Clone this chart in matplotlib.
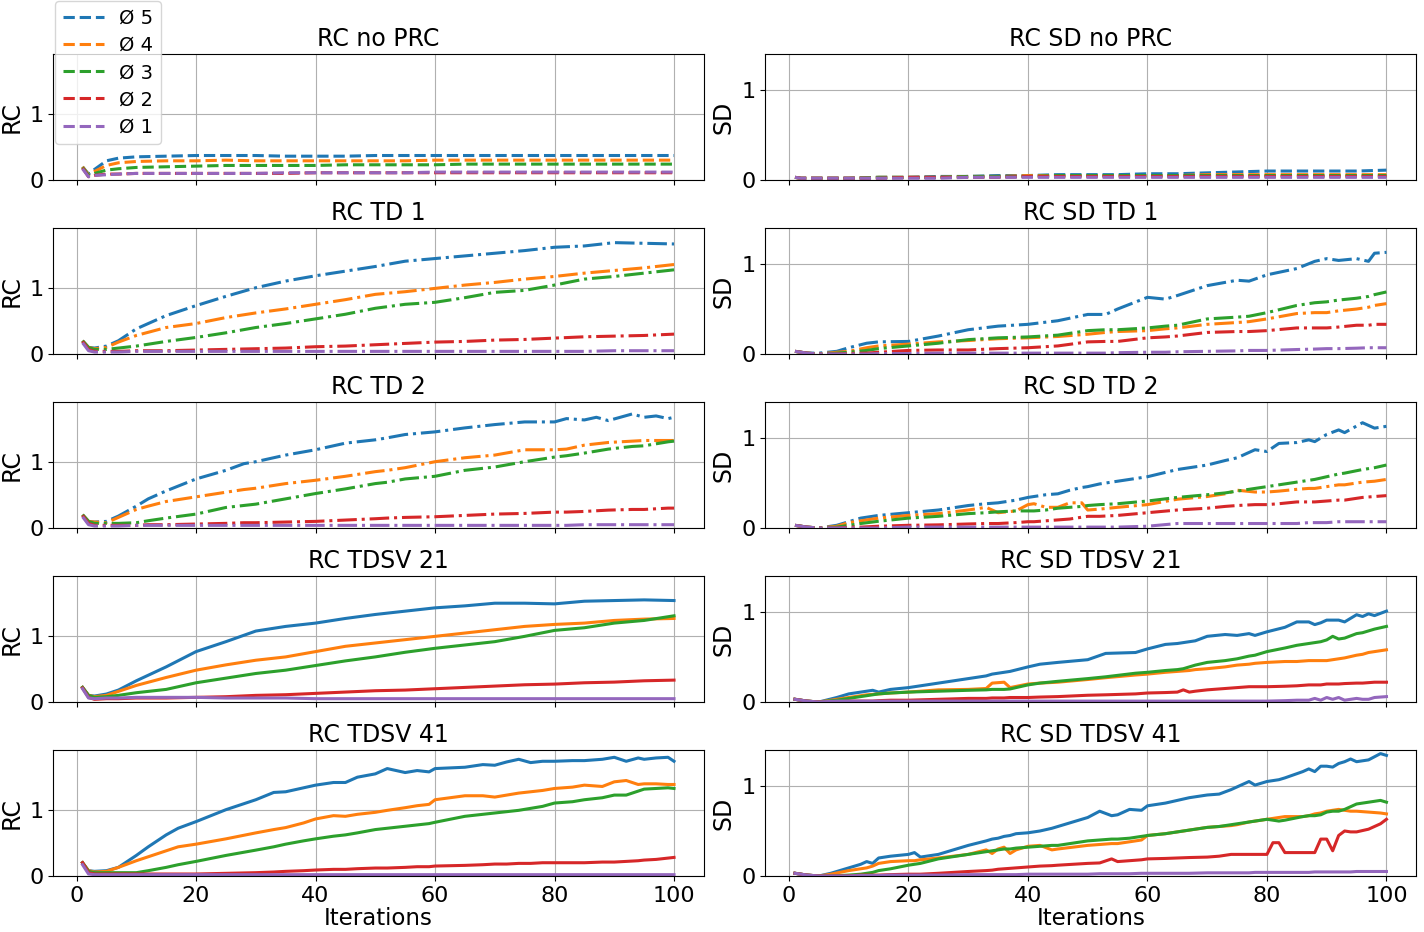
import matplotlib
matplotlib.use('Agg')
import matplotlib.pyplot as plt

labels = ['Ø 5', 'Ø 4', 'Ø 3', 'Ø 2', 'Ø 1']
colors = ['tab:blue', 'tab:orange', 'tab:green', 'tab:red', 'tab:purple']

# base iteration grid (smooth panels)
it_base = [1, 2, 3, 5, 7, 10, 15, 20, 25, 30, 35, 40, 45, 50, 55,
           60, 65, 70, 75, 80, 85, 90, 95, 100]

# RC no PRC
rc_noprc = [
    [0.20, 0.09, 0.16, 0.29, 0.33, 0.35, 0.36, 0.37, 0.37, 0.37, 0.36, 0.36,
     0.36, 0.37, 0.37, 0.37, 0.37, 0.37, 0.37, 0.37, 0.37, 0.37, 0.37, 0.37],
    [0.20, 0.08, 0.13, 0.22, 0.26, 0.28, 0.29, 0.29, 0.30, 0.29, 0.29, 0.29,
     0.29, 0.29, 0.29, 0.30, 0.30, 0.30, 0.30, 0.30, 0.30, 0.30, 0.30, 0.30],
    [0.19, 0.07, 0.10, 0.15, 0.17, 0.19, 0.20, 0.21, 0.22, 0.22, 0.22, 0.22,
     0.23, 0.23, 0.23, 0.23, 0.24, 0.24, 0.24, 0.24, 0.24, 0.24, 0.24, 0.24],
    [0.18, 0.05, 0.07, 0.09, 0.09, 0.10, 0.10, 0.10, 0.10, 0.10, 0.10, 0.11,
     0.11, 0.11, 0.11, 0.11, 0.11, 0.11, 0.11, 0.11, 0.11, 0.11, 0.11, 0.11],
    [0.17, 0.05, 0.07, 0.08, 0.09, 0.10, 0.10, 0.10, 0.10, 0.10, 0.11, 0.11,
     0.11, 0.11, 0.11, 0.12, 0.12, 0.12, 0.12, 0.12, 0.12, 0.12, 0.12, 0.12],
]

# RC SD no PRC
sd_noprc = [
    [0.03, 0.02, 0.02, 0.02, 0.02, 0.02, 0.03, 0.03, 0.04, 0.04, 0.05, 0.05,
     0.06, 0.06, 0.06, 0.07, 0.07, 0.08, 0.09, 0.10, 0.10, 0.10, 0.10, 0.11],
    [0.03, 0.02, 0.02, 0.02, 0.02, 0.02, 0.03, 0.03, 0.03, 0.04, 0.04, 0.05,
     0.05, 0.05, 0.05, 0.05, 0.05, 0.06, 0.06, 0.06, 0.06, 0.06, 0.06, 0.06],
    [0.03, 0.02, 0.02, 0.02, 0.02, 0.02, 0.03, 0.03, 0.03, 0.04, 0.04, 0.04,
     0.05, 0.05, 0.05, 0.05, 0.05, 0.05, 0.05, 0.05, 0.05, 0.05, 0.05, 0.05],
    [0.03, 0.02, 0.02, 0.02, 0.02, 0.02, 0.02, 0.03, 0.03, 0.03, 0.03, 0.04,
     0.04, 0.04, 0.04, 0.04, 0.04, 0.04, 0.04, 0.04, 0.04, 0.04, 0.04, 0.04],
    [0.03, 0.02, 0.02, 0.02, 0.02, 0.02, 0.02, 0.02, 0.02, 0.03, 0.03, 0.03,
     0.03, 0.03, 0.03, 0.03, 0.03, 0.03, 0.03, 0.03, 0.03, 0.03, 0.03, 0.03],
]

# RC TD 1
rc_td1 = [
    [0.20, 0.10, 0.09, 0.12, 0.20, 0.38, 0.58, 0.73, 0.87, 1.00, 1.10, 1.18,
     1.25, 1.32, 1.40, 1.44, 1.48, 1.52, 1.56, 1.61, 1.63, 1.68, 1.67, 1.66],
    [0.20, 0.10, 0.08, 0.10, 0.18, 0.28, 0.40, 0.46, 0.55, 0.62, 0.68, 0.75,
     0.82, 0.90, 0.94, 0.99, 1.04, 1.08, 1.13, 1.17, 1.22, 1.26, 1.30, 1.35],
    [0.20, 0.10, 0.07, 0.07, 0.09, 0.12, 0.19, 0.25, 0.32, 0.40, 0.46, 0.53,
     0.60, 0.69, 0.75, 0.78, 0.85, 0.93, 0.96, 1.04, 1.13, 1.17, 1.22, 1.27],
    [0.19, 0.07, 0.04, 0.04, 0.04, 0.05, 0.05, 0.06, 0.07, 0.08, 0.09, 0.11,
     0.12, 0.14, 0.16, 0.18, 0.19, 0.21, 0.22, 0.24, 0.26, 0.27, 0.28, 0.30],
    [0.17, 0.05, 0.03, 0.03, 0.03, 0.04, 0.04, 0.04, 0.04, 0.04, 0.04, 0.04,
     0.04, 0.04, 0.04, 0.04, 0.04, 0.04, 0.04, 0.04, 0.04, 0.05, 0.05, 0.05],
]

# RC SD TD 1
it_sd_td1 = [1, 3, 5, 8, 10, 13, 15, 20, 25, 30, 35, 40, 45, 50, 53, 55, 60,
             63, 65, 70, 75, 77, 80, 85, 88, 90, 92, 95, 97, 98, 100]
sd_td1 = [
    [0.03, 0.01, 0.01, 0.03, 0.07, 0.12, 0.135, 0.14, 0.20, 0.27, 0.31, 0.33,
     0.37, 0.44, 0.44, 0.50, 0.63, 0.61, 0.65, 0.76, 0.82, 0.81, 0.88, 0.95,
     1.03, 1.06, 1.04, 1.06, 1.03, 1.12, 1.13],
    [0.03, 0.01, 0.0, 0.02, 0.03, 0.07, 0.09, 0.11, 0.135, 0.15, 0.17, 0.18,
     0.195, 0.22, 0.24, 0.25, 0.26, 0.28, 0.29, 0.33, 0.35, 0.36, 0.39, 0.45,
     0.46, 0.46, 0.48, 0.50, 0.52, 0.54, 0.56],
    [0.03, 0.01, 0.0, 0.01, 0.02, 0.04, 0.06, 0.09, 0.12, 0.16, 0.18, 0.19,
     0.21, 0.26, 0.27, 0.27, 0.29, 0.31, 0.32, 0.39, 0.41, 0.42, 0.46, 0.54,
     0.57, 0.58, 0.60, 0.62, 0.64, 0.66, 0.69],
    [0.03, 0.01, 0.0, 0.0, 0.005, 0.01, 0.02, 0.04, 0.045, 0.045, 0.06, 0.07,
     0.09, 0.135, 0.14, 0.14, 0.18, 0.19, 0.20, 0.24, 0.25, 0.25, 0.26, 0.29,
     0.29, 0.29, 0.30, 0.32, 0.32, 0.33, 0.33],
    [0.03, 0.01, 0.0, 0.0, 0.0, 0.0, 0.005, 0.005, 0.01, 0.01, 0.01, 0.01,
     0.01, 0.01, 0.01, 0.015, 0.02, 0.02, 0.025, 0.03, 0.035, 0.04, 0.04, 0.05,
     0.055, 0.06, 0.06, 0.065, 0.07, 0.07, 0.07],
]

# RC TD 2
it_td2 = [1, 2, 3, 5, 7, 10, 12, 15, 20, 25, 28, 30, 35, 40, 45, 50, 52, 55,
          60, 65, 70, 75, 80, 82, 85, 87, 89, 93, 95, 97, 99, 100]
rc_td2 = [
    [0.20, 0.10, 0.09, 0.10, 0.18, 0.33, 0.44, 0.56, 0.74, 0.87, 0.97, 1.00,
     1.10, 1.18, 1.28, 1.33, 1.36, 1.41, 1.45, 1.51, 1.56, 1.60, 1.60, 1.65,
     1.63, 1.67, 1.62, 1.72, 1.67, 1.69, 1.65, 1.67],
    [0.20, 0.10, 0.09, 0.08, 0.16, 0.28, 0.33, 0.40, 0.47, 0.54, 0.58, 0.60,
     0.67, 0.72, 0.78, 0.85, 0.87, 0.91, 1.00, 1.06, 1.10, 1.18, 1.18, 1.19,
     1.25, 1.27, 1.29, 1.31, 1.32, 1.32, 1.32, 1.32],
    [0.20, 0.10, 0.07, 0.07, 0.07, 0.08, 0.11, 0.15, 0.21, 0.31, 0.34, 0.36,
     0.44, 0.52, 0.59, 0.67, 0.69, 0.74, 0.78, 0.87, 0.92, 1.00, 1.07, 1.09,
     1.13, 1.16, 1.19, 1.23, 1.24, 1.27, 1.30, 1.31],
    [0.19, 0.07, 0.04, 0.04, 0.04, 0.04, 0.05, 0.05, 0.06, 0.07, 0.08, 0.08,
     0.09, 0.10, 0.12, 0.14, 0.15, 0.16, 0.17, 0.19, 0.21, 0.22, 0.24, 0.24,
     0.25, 0.26, 0.27, 0.28, 0.28, 0.29, 0.30, 0.30],
    [0.17, 0.05, 0.03, 0.03, 0.03, 0.04, 0.04, 0.04, 0.04, 0.04, 0.04, 0.04,
     0.04, 0.04, 0.04, 0.04, 0.04, 0.04, 0.04, 0.04, 0.04, 0.04, 0.04, 0.04,
     0.05, 0.05, 0.05, 0.05, 0.05, 0.05, 0.05, 0.05],
]

# RC SD TD 2
it_sd_td2 = [1, 3, 5, 8, 10, 12, 15, 20, 25, 30, 33, 35, 38, 40, 41, 43, 45,
             47, 49, 50, 52, 55, 60, 65, 70, 73, 75, 78, 80, 82, 85, 87, 88,
             90, 92, 93, 96, 98, 100]
sd_td2 = [
    [0.03, 0.01, 0.0, 0.03, 0.07, 0.11, 0.14, 0.17, 0.20, 0.25, 0.27, 0.28,
     0.31, 0.34, 0.35, 0.37, 0.38, 0.42, 0.45, 0.46, 0.49, 0.52, 0.57, 0.65,
     0.70, 0.75, 0.78, 0.87, 0.85, 0.94, 0.95, 0.98, 0.96, 1.04, 1.09, 1.06,
     1.17, 1.11, 1.13],
    [0.03, 0.01, 0.0, 0.02, 0.06, 0.08, 0.11, 0.14, 0.16, 0.20, 0.23, 0.17,
     0.19, 0.26, 0.27, 0.23, 0.23, 0.28, 0.28, 0.20, 0.21, 0.23, 0.26, 0.32,
     0.35, 0.38, 0.42, 0.40, 0.40, 0.41, 0.43, 0.44, 0.44, 0.46, 0.48, 0.48,
     0.51, 0.52, 0.54],
    [0.03, 0.01, 0.0, 0.01, 0.03, 0.05, 0.075, 0.11, 0.13, 0.16, 0.17, 0.18,
     0.19, 0.19, 0.19, 0.20, 0.22, 0.23, 0.24, 0.25, 0.26, 0.27, 0.30, 0.34,
     0.37, 0.39, 0.41, 0.44, 0.46, 0.48, 0.51, 0.53, 0.54, 0.57, 0.60, 0.61,
     0.65, 0.67, 0.70],
    [0.03, 0.01, 0.0, 0.0, 0.01, 0.01, 0.02, 0.03, 0.035, 0.045, 0.05, 0.05,
     0.06, 0.07, 0.07, 0.08, 0.09, 0.10, 0.12, 0.13, 0.13, 0.14, 0.17, 0.20,
     0.22, 0.24, 0.25, 0.26, 0.26, 0.27, 0.29, 0.29, 0.29, 0.30, 0.31, 0.31,
     0.34, 0.35, 0.36],
    [0.03, 0.01, 0.0, 0.0, 0.0, 0.0, 0.0, 0.01, 0.01, 0.01, 0.01, 0.01,
     0.01, 0.01, 0.01, 0.01, 0.01, 0.01, 0.01, 0.01, 0.01, 0.01, 0.02, 0.05,
     0.05, 0.05, 0.05, 0.05, 0.05, 0.05, 0.05, 0.06, 0.06, 0.06, 0.07, 0.07,
     0.07, 0.07, 0.07],
]

# RC TDSV 21
rc_tdsv21 = [
    [0.22, 0.10, 0.09, 0.12, 0.18, 0.32, 0.53, 0.76, 0.91, 1.07, 1.14, 1.19,
     1.26, 1.32, 1.37, 1.42, 1.45, 1.49, 1.49, 1.48, 1.52, 1.53, 1.54, 1.53],
    [0.22, 0.10, 0.08, 0.10, 0.16, 0.25, 0.37, 0.48, 0.56, 0.63, 0.68, 0.76,
     0.84, 0.89, 0.94, 0.99, 1.04, 1.09, 1.14, 1.17, 1.19, 1.23, 1.25, 1.26],
    [0.22, 0.10, 0.07, 0.08, 0.10, 0.14, 0.19, 0.29, 0.36, 0.43, 0.48, 0.55,
     0.62, 0.68, 0.75, 0.81, 0.86, 0.91, 0.99, 1.08, 1.12, 1.19, 1.23, 1.30],
    [0.21, 0.07, 0.04, 0.05, 0.05, 0.06, 0.06, 0.07, 0.08, 0.10, 0.11, 0.13,
     0.15, 0.17, 0.18, 0.20, 0.22, 0.24, 0.26, 0.27, 0.29, 0.30, 0.32, 0.33],
    [0.20, 0.06, 0.05, 0.06, 0.06, 0.07, 0.07, 0.07, 0.06, 0.06, 0.06, 0.05,
     0.05, 0.05, 0.05, 0.05, 0.05, 0.05, 0.05, 0.05, 0.05, 0.05, 0.05, 0.05],
]

# RC SD TDSV 21
it_sd_tdsv21 = [1, 3, 5, 8, 10, 13, 14, 15, 17, 20, 25, 30, 33, 34, 36, 37,
                40, 42, 45, 50, 53, 58, 60, 63, 65, 66, 67, 68, 70, 73, 75,
                77, 78, 80, 83, 85, 87, 88, 89, 90, 91, 92, 93, 95, 96, 97,
                98, 100]
sd_tdsv21 = [
    [0.03, 0.01, 0.0, 0.05, 0.09, 0.12, 0.13, 0.11, 0.14, 0.16, 0.21, 0.26,
     0.29, 0.31, 0.33, 0.34, 0.39, 0.42, 0.44, 0.47, 0.54, 0.55, 0.59, 0.64,
     0.65, 0.66, 0.67, 0.68, 0.73, 0.75, 0.74, 0.76, 0.74, 0.78, 0.83, 0.89,
     0.89, 0.86, 0.88, 0.91, 0.91, 0.91, 0.89, 0.97, 0.95, 0.98, 0.96, 1.01],
    [0.03, 0.01, 0.0, 0.03, 0.05, 0.08, 0.085, 0.09, 0.10, 0.11, 0.135, 0.14,
     0.15, 0.21, 0.22, 0.16, 0.20, 0.21, 0.22, 0.25, 0.27, 0.30, 0.31, 0.33,
     0.34, 0.345, 0.35, 0.36, 0.37, 0.39, 0.41, 0.42, 0.43, 0.44, 0.45, 0.45,
     0.46, 0.46, 0.46, 0.46, 0.47, 0.48, 0.49, 0.52, 0.53, 0.55, 0.56, 0.58],
    [0.03, 0.01, 0.0, 0.02, 0.04, 0.07, 0.08, 0.09, 0.10, 0.11, 0.12, 0.13,
     0.135, 0.14, 0.14, 0.145, 0.19, 0.21, 0.23, 0.26, 0.28, 0.32, 0.33, 0.35,
     0.36, 0.37, 0.39, 0.41, 0.44, 0.46, 0.48, 0.51, 0.52, 0.56, 0.60, 0.63,
     0.65, 0.66, 0.67, 0.69, 0.73, 0.70, 0.71, 0.76, 0.77, 0.79, 0.81, 0.84],
    [0.03, 0.01, 0.0, 0.0, 0.01, 0.01, 0.01, 0.015, 0.02, 0.02, 0.03, 0.04,
     0.04, 0.045, 0.045, 0.05, 0.05, 0.055, 0.06, 0.075, 0.08, 0.09, 0.10,
     0.105, 0.11, 0.135, 0.11, 0.12, 0.135, 0.15, 0.16, 0.17, 0.17, 0.17,
     0.175, 0.18, 0.19, 0.19, 0.19, 0.20, 0.20, 0.20, 0.205, 0.21, 0.21,
     0.215, 0.22, 0.22],
    [0.03, 0.01, 0.0, 0.01, 0.01, 0.01, 0.01, 0.01, 0.01, 0.01, 0.01, 0.01,
     0.01, 0.01, 0.01, 0.01, 0.01, 0.01, 0.01, 0.01, 0.01, 0.01, 0.01, 0.01,
     0.01, 0.01, 0.01, 0.01, 0.01, 0.01, 0.01, 0.01, 0.01, 0.01, 0.015, 0.02,
     0.02, 0.04, 0.02, 0.05, 0.03, 0.05, 0.02, 0.04, 0.03, 0.03, 0.05, 0.06],
]

# RC TDSV 41
it_tdsv41 = [1, 2, 3, 5, 7, 10, 12, 15, 17, 20, 25, 30, 33, 35, 38, 40, 43,
             45, 47, 50, 52, 55, 57, 59, 60, 65, 68, 70, 72, 74, 76, 78, 80,
             83, 85, 88, 90, 92, 94, 95, 97, 99, 100]
rc_tdsv41 = [
    [0.20, 0.08, 0.07, 0.08, 0.13, 0.31, 0.44, 0.62, 0.72, 0.82, 1.00, 1.15,
     1.26, 1.27, 1.33, 1.37, 1.41, 1.41, 1.49, 1.54, 1.62, 1.56, 1.59, 1.57,
     1.62, 1.64, 1.68, 1.67, 1.72, 1.76, 1.71, 1.73, 1.73, 1.74, 1.74, 1.76,
     1.79, 1.73, 1.78, 1.76, 1.78, 1.79, 1.73],
    [0.20, 0.08, 0.06, 0.07, 0.13, 0.23, 0.29, 0.38, 0.44, 0.48, 0.56, 0.65,
     0.70, 0.73, 0.80, 0.86, 0.91, 0.90, 0.93, 0.96, 0.99, 1.03, 1.06, 1.08,
     1.15, 1.21, 1.21, 1.19, 1.22, 1.25, 1.27, 1.29, 1.32, 1.34, 1.37, 1.35,
     1.42, 1.44, 1.38, 1.39, 1.39, 1.38, 1.38],
    [0.20, 0.07, 0.05, 0.05, 0.05, 0.05, 0.08, 0.13, 0.17, 0.22, 0.31, 0.39,
     0.44, 0.48, 0.53, 0.56, 0.60, 0.62, 0.65, 0.70, 0.72, 0.75, 0.77, 0.79,
     0.81, 0.90, 0.93, 0.95, 0.97, 0.99, 1.02, 1.05, 1.10, 1.12, 1.15, 1.18,
     1.22, 1.22, 1.28, 1.31, 1.32, 1.33, 1.32],
    [0.20, 0.05, 0.03, 0.03, 0.03, 0.03, 0.03, 0.03, 0.03, 0.03, 0.04, 0.05,
     0.06, 0.07, 0.08, 0.09, 0.10, 0.10, 0.11, 0.12, 0.12, 0.13, 0.14, 0.14,
     0.15, 0.16, 0.17, 0.18, 0.18, 0.19, 0.19, 0.20, 0.20, 0.20, 0.20, 0.21,
     0.21, 0.22, 0.23, 0.24, 0.25, 0.27, 0.28],
    [0.17, 0.03, 0.02, 0.02, 0.02, 0.02, 0.02, 0.02, 0.02, 0.02, 0.02, 0.02,
     0.02, 0.02, 0.02, 0.02, 0.02, 0.02, 0.02, 0.02, 0.02, 0.02, 0.02, 0.02,
     0.02, 0.02, 0.02, 0.02, 0.02, 0.02, 0.02, 0.02, 0.02, 0.02, 0.02, 0.02,
     0.02, 0.02, 0.02, 0.02, 0.02, 0.02, 0.02],
]

# RC SD TDSV 41
it_sd_tdsv41 = [1, 3, 5, 7, 10, 12, 13, 14, 15, 17, 20, 21, 22, 25, 30, 33,
                34, 35, 36, 37, 38, 40, 42, 44, 45, 50, 52, 54, 55, 57, 59,
                60, 63, 65, 67, 70, 72, 74, 75, 77, 78, 80, 81, 82, 83, 86,
                87, 88, 89, 90, 91, 92, 93, 94, 95, 97, 99, 100]
sd_tdsv41 = [
    [0.03, 0.01, 0.0, 0.03, 0.09, 0.13, 0.16, 0.14, 0.20, 0.22, 0.24, 0.26,
     0.21, 0.24, 0.34, 0.39, 0.41, 0.42, 0.44, 0.45, 0.47, 0.48, 0.50, 0.53,
     0.55, 0.65, 0.72, 0.67, 0.68, 0.74, 0.73, 0.78, 0.81, 0.84, 0.87, 0.90,
     0.91, 0.96, 0.99, 1.05, 1.01, 1.05, 1.06, 1.07, 1.09, 1.16, 1.19, 1.16,
     1.22, 1.22, 1.21, 1.25, 1.27, 1.30, 1.27, 1.29, 1.36, 1.34],
    [0.03, 0.01, 0.0, 0.02, 0.06, 0.08, 0.09, 0.11, 0.14, 0.16, 0.17, 0.17,
     0.18, 0.20, 0.24, 0.29, 0.25, 0.30, 0.32, 0.25, 0.29, 0.33, 0.34, 0.29,
     0.30, 0.34, 0.35, 0.36, 0.36, 0.38, 0.40, 0.45, 0.47, 0.49, 0.51, 0.54,
     0.55, 0.56, 0.57, 0.60, 0.61, 0.63, 0.64, 0.65, 0.66, 0.66, 0.67, 0.69,
     0.70, 0.72, 0.73, 0.74, 0.73, 0.72, 0.72, 0.71, 0.70, 0.69],
    [0.03, 0.01, 0.0, 0.0, 0.01, 0.02, 0.03, 0.04, 0.06, 0.08, 0.12, 0.13,
     0.14, 0.19, 0.24, 0.27, 0.28, 0.29, 0.30, 0.30, 0.31, 0.32, 0.33, 0.34,
     0.34, 0.39, 0.40, 0.41, 0.41, 0.42, 0.44, 0.45, 0.47, 0.49, 0.51, 0.54,
     0.55, 0.57, 0.58, 0.60, 0.61, 0.63, 0.62, 0.61, 0.62, 0.66, 0.67, 0.67,
     0.68, 0.71, 0.72, 0.72, 0.74, 0.77, 0.80, 0.82, 0.84, 0.82],
    [0.03, 0.01, 0.0, 0.0, 0.0, 0.01, 0.01, 0.01, 0.01, 0.015, 0.02, 0.02,
     0.02, 0.03, 0.05, 0.06, 0.065, 0.075, 0.08, 0.085, 0.09, 0.10, 0.11,
     0.115, 0.12, 0.14, 0.145, 0.19, 0.16, 0.17, 0.18, 0.19, 0.195, 0.20,
     0.205, 0.21, 0.22, 0.24, 0.24, 0.24, 0.24, 0.24, 0.37, 0.37, 0.26,
     0.26, 0.26, 0.26, 0.41, 0.41, 0.28, 0.45, 0.50, 0.49, 0.49, 0.52, 0.58,
     0.63],
    [0.03, 0.01, 0.0, 0.0, 0.0, 0.005, 0.005, 0.005, 0.005, 0.01, 0.01, 0.01,
     0.01, 0.01, 0.015, 0.015, 0.015, 0.015, 0.015, 0.015, 0.015, 0.02, 0.02,
     0.02, 0.02, 0.02, 0.025, 0.025, 0.025, 0.025, 0.03, 0.03, 0.03, 0.03,
     0.03, 0.035, 0.035, 0.035, 0.035, 0.035, 0.04, 0.04, 0.04, 0.04, 0.04,
     0.04, 0.04, 0.045, 0.045, 0.045, 0.045, 0.045, 0.045, 0.045, 0.05, 0.05,
     0.05, 0.05],
]

# (title, iterations, series) for every row, left / right, plus line style
rows = [
    (('RC no PRC', it_base, rc_noprc), ('RC SD no PRC', it_base, sd_noprc), '--'),
    (('RC TD 1', it_base, rc_td1), ('RC SD TD 1', it_sd_td1, sd_td1), '-.'),
    (('RC TD 2', it_td2, rc_td2), ('RC SD TD 2', it_sd_td2, sd_td2), '-.'),
    (('RC TDSV 21', it_base, rc_tdsv21), ('RC SD TDSV 21', it_sd_tdsv21, sd_tdsv21), '-'),
    (('RC TDSV 41', it_tdsv41, rc_tdsv41), ('RC SD TDSV 41', it_sd_tdsv41, sd_tdsv41), '-'),
]

plt.rcParams['font.size'] = 14

fig, axes = plt.subplots(5, 2, figsize=(14.24, 9.32), dpi=100, sharex='col')
fig.subplots_adjust(left=0.0372, right=0.9944, top=0.942, bottom=0.0601,
                    hspace=0.381, wspace=0.095)

for r, (left, right, ls) in enumerate(rows):
    for c, (title, its, series) in enumerate([left, right]):
        ax = axes[r, c]
        for vals, col, lab in zip(series, colors, labels):
            ax.plot(its, vals, ls, color=col, lw=2.2, label=lab)
        ax.set_title(title, fontsize=17)
        ax.grid(True)
        if c == 0:
            ax.set_ylim(0, 1.9)
            ax.set_ylabel('RC', fontsize=17)
        else:
            ax.set_ylim(0, 1.4)
            ax.set_ylabel('SD', fontsize=17)
        ax.set_yticks([0, 1])
        ax.set_xticks([0, 20, 40, 60, 80, 100])
        ax.tick_params(labelsize=16)
        if r == 4:
            ax.set_xlabel('Iterations', fontsize=16.5, labelpad=1)

handles, labs = axes[0, 0].get_legend_handles_labels()
fig.legend(handles, labs, loc='upper left', bbox_to_anchor=(55 / 1424, 1 - 1 / 932),
           borderaxespad=0, fontsize=14, labelspacing=0.42, handlelength=2.1)

fig.savefig('out.png', dpi=100)
